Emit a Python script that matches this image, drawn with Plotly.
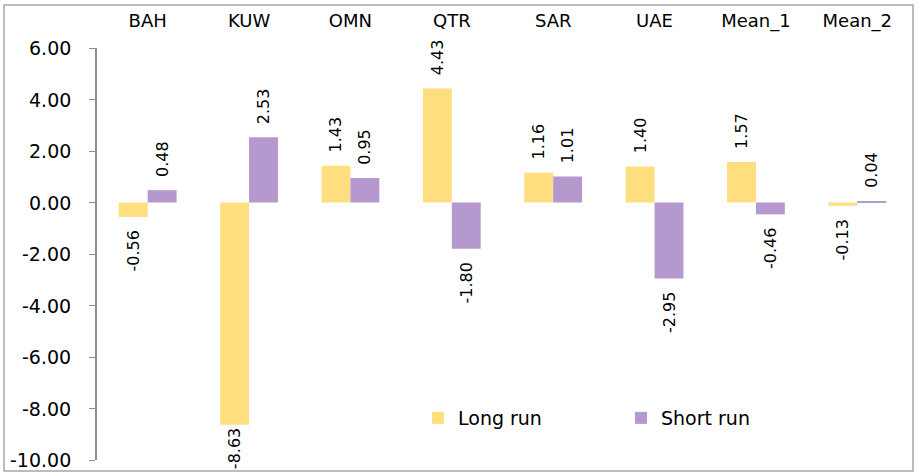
import plotly.graph_objects as go

categories = ["BAH", "KUW", "OMN", "QTR", "SAR", "UAE", "Mean_1", "Mean_2"]
long_run = [-0.56, -8.63, 1.43, 4.43, 1.16, 1.40, 1.57, -0.13]
short_run = [0.48, 2.53, 0.95, -1.80, 1.01, -2.95, -0.46, 0.04]
series_names = ["Long run", "Short run"]
y_ticks = [6, 4, 2, 0, -2, -4, -6, -8, -10]

FONT = "DejaVu Sans, sans-serif"
C_LONG = "#FFDE80"
C_SHORT = "#B498CE"
AX = "#8C8C8C"
PAD = "\u00a0\u00a0"


def label(v, pad=True):
    s = f"{v:.2f}"
    if not pad:
        return s
    return PAD + s if v >= 0 else s + PAD


fig = go.Figure()
for name, vals, col in [(series_names[0], long_run, C_LONG), (series_names[1], short_run, C_SHORT)]:
    fig.add_trace(go.Bar(
        x=categories, y=vals, name=name,
        marker=dict(color=col, line=dict(width=0)),
        text=[label(v, v > -8) for v in vals], textposition="outside",
        textangle=-90, cliponaxis=False, constraintext="none",
        textfont=dict(family=FONT, size=16, color="#000"),
    ))

L, R, T, B = 97, 10, 48, 14
W, H = 918, 474
pw, ph = W - L - R, H - T - B

fig.update_layout(
    width=W, height=H,
    margin=dict(l=L, r=R, t=T, b=B, autoexpand=False),
    paper_bgcolor="white", plot_bgcolor="white",
    barmode="group", bargap=0.43, bargroupgap=0,
    font=dict(family=FONT, size=16, color="#000"),
    showlegend=True,
    legend=dict(orientation="h", x=(621 - L) / pw, y=(H - B - 418) / ph,
                xanchor="center", yanchor="middle",
                font=dict(family=FONT, size=19), entrywidth=158,
                bgcolor="rgba(0,0,0,0)"),
    xaxis=dict(side="top", showline=False, ticks="", showgrid=False,
               zeroline=False, ticklabelstandoff=16, automargin=False,
               tickfont=dict(family=FONT, size=18)),
    xaxis2=dict(overlaying="x", anchor="free", position=10 / 16,
                range=[-0.5, 7.5], tickvals=[0.5 + i for i in range(8)],
                showticklabels=False, ticks="outside", ticklen=6,
                tickcolor=AX, showline=True, linecolor=AX, linewidth=1.5,
                showgrid=False, zeroline=False, side="bottom", automargin=False),
    yaxis=dict(range=[-10, 6], tickvals=y_ticks, showticklabels=False,
               showgrid=False, zeroline=False, showline=True, linecolor=AX,
               linewidth=1.5, ticks="outside", ticklen=6, tickcolor=AX,
               automargin=False),
)

# y tick labels (placed as text next to the axis)
for v in y_ticks:
    fig.add_annotation(x=0, xref="paper", y=v, yref="y", text=f"{v:.2f}",
                       showarrow=False, xanchor="right", yanchor="middle",
                       xshift=-24, font=dict(family=FONT, size=19, color="#000"))

# outer chart border
fig.add_shape(type="rect", xref="paper", yref="paper",
              x0=(4 - L) / pw, x1=(913 - L) / pw,
              y0=(H - B - 471) / ph, y1=(H - B - 5) / ph,
              line=dict(color="#A6A6A6", width=1.5), layer="below")

fig.write_html(
    "out.html",
    config={"displayModeBar": False},
    post_script="document.body.style.margin='0';document.body.style.padding='0';",
)
